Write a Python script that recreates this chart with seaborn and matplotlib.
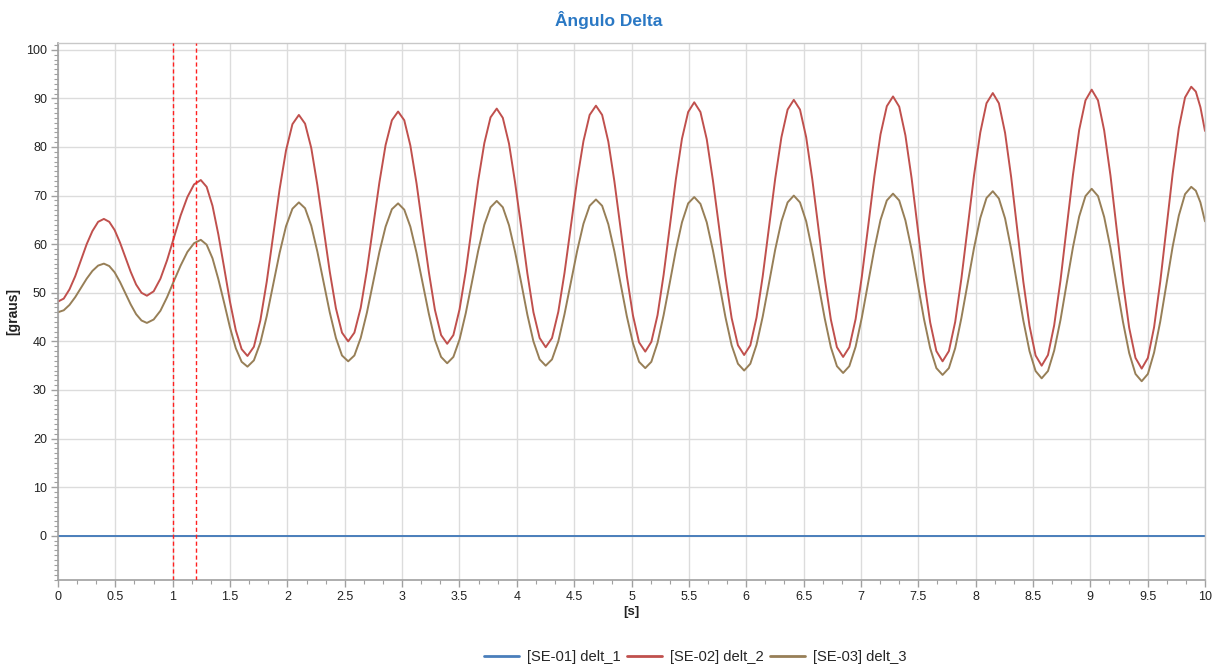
import matplotlib
matplotlib.use("Agg")
import matplotlib.pyplot as plt
from matplotlib.ticker import MultipleLocator
from matplotlib.lines import Line2D
import pandas as pd
import seaborn as sns

# ---- data ----
time_s = [
    0.0,
    0.05, 0.10, 0.15, 0.20, 0.25, 0.30, 0.35,
    0.40,
    0.447, 0.494, 0.541, 0.588, 0.634, 0.681, 0.728,
    0.775,
    0.834, 0.893, 0.951, 1.010, 1.069, 1.128, 1.186,
    1.245,
    1.296, 1.347, 1.398, 1.449, 1.499, 1.550, 1.601,
    1.652,
    1.708, 1.764, 1.820, 1.876, 1.932, 1.988, 2.044,
    2.10,
    2.154, 2.208, 2.261, 2.315, 2.369, 2.423, 2.476,
    2.53,
    2.584, 2.639, 2.693, 2.748, 2.802, 2.856, 2.911,
    2.965,
    3.019, 3.072, 3.126, 3.179, 3.233, 3.286, 3.340,
    3.393,
    3.447, 3.501, 3.555, 3.609, 3.663, 3.717, 3.771,
    3.825,
    3.878, 3.932, 3.985, 4.039, 4.092, 4.145, 4.199,
    4.252,
    4.307, 4.362, 4.416, 4.471, 4.526, 4.581, 4.635,
    4.69,
    4.744, 4.798, 4.851, 4.905, 4.959, 5.013, 5.066,
    5.12,
    5.173, 5.227, 5.280, 5.334, 5.387, 5.440, 5.494,
    5.547,
    5.601, 5.656, 5.710, 5.765, 5.819, 5.873, 5.928,
    5.982,
    6.036, 6.090, 6.144, 6.199, 6.253, 6.307, 6.361,
    6.415,
    6.469, 6.523, 6.576, 6.630, 6.684, 6.738, 6.791,
    6.845,
    6.899, 6.954, 7.008, 7.063, 7.117, 7.171, 7.226,
    7.28,
    7.334, 7.388, 7.442, 7.496, 7.550, 7.604, 7.658,
    7.712,
    7.767, 7.822, 7.876, 7.931, 7.986, 8.041, 8.095,
    8.15,
    8.203, 8.257, 8.310, 8.363, 8.416, 8.470, 8.523,
    8.576,
    8.631, 8.685, 8.740, 8.794, 8.849, 8.903, 8.958,
    9.012,
    9.067, 9.121, 9.176, 9.230, 9.285, 9.339, 9.394,
    9.448,
    9.502, 9.556, 9.610, 9.664, 9.718, 9.772, 9.826,
    9.88,
    9.92, 9.96, 10.0,
]

delt_2 = [
    48.2,
    48.8, 50.7, 53.4, 56.7, 60.0, 62.7, 64.6,
    65.2,
    64.6, 62.9, 60.3, 57.3, 54.3, 51.7, 50.0,
    49.4,
    50.3, 52.9, 56.7, 61.3, 65.9, 69.7, 72.3,
    73.2,
    71.8, 67.9, 62.0, 55.1, 48.2, 42.3, 38.4,
    37.0,
    38.9, 44.3, 52.3, 61.8, 71.3, 79.3, 84.7,
    86.6,
    84.8, 79.8, 72.2, 63.3, 54.4, 46.8, 41.8,
    40.0,
    41.8, 46.9, 54.6, 63.7, 72.7, 80.4, 85.5,
    87.3,
    85.5, 80.3, 72.5, 63.4, 54.3, 46.5, 41.3,
    39.5,
    41.3, 46.6, 54.4, 63.7, 73.0, 80.8, 86.1,
    87.9,
    86.0, 80.7, 72.7, 63.4, 54.0, 46.0, 40.7,
    38.8,
    40.7, 46.1, 54.1, 63.7, 73.2, 81.2, 86.6,
    88.5,
    86.6, 81.1, 72.9, 63.2, 53.5, 45.3, 39.8,
    37.9,
    39.9, 45.4, 53.7, 63.6, 73.4, 81.7, 87.2,
    89.2,
    87.2, 81.6, 73.1, 63.2, 53.3, 44.8, 39.2,
    37.2,
    39.2, 44.9, 53.4, 63.5, 73.5, 82.0, 87.7,
    89.7,
    87.7, 82.0, 73.4, 63.3, 53.1, 44.5, 38.8,
    36.8,
    38.8, 44.6, 53.3, 63.6, 73.9, 82.6, 88.4,
    90.4,
    88.3, 82.4, 73.6, 63.2, 52.7, 43.9, 38.0,
    35.9,
    38.0, 44.0, 52.9, 63.5, 74.1, 83.0, 89.0,
    91.1,
    89.0, 82.9, 73.8, 63.1, 52.3, 43.2, 37.1,
    35.0,
    37.2, 43.3, 52.5, 63.4, 74.3, 83.5, 89.6,
    91.8,
    89.6, 83.4, 74.1, 63.1, 52.1, 42.8, 36.6,
    34.4,
    36.6, 42.9, 52.3, 63.4, 74.5, 83.9, 90.2,
    92.4,
    91.4, 88.2, 83.3,
]

delt_3 = [
    46.0,
    46.4, 47.5, 49.1, 51.0, 52.9, 54.5, 55.6,
    56.0,
    55.5, 54.2, 52.2, 49.9, 47.6, 45.6, 44.3,
    43.8,
    44.5, 46.3, 49.1, 52.4, 55.6, 58.4, 60.2,
    60.9,
    59.9, 57.1, 52.8, 47.9, 42.9, 38.6, 35.8,
    34.8,
    36.1, 39.7, 45.2, 51.7, 58.2, 63.7, 67.3,
    68.6,
    67.4, 63.8, 58.5, 52.3, 46.0, 40.7, 37.1,
    35.9,
    37.1, 40.7, 45.9, 52.2, 58.4, 63.6, 67.2,
    68.4,
    67.1, 63.6, 58.2, 52.0, 45.7, 40.3, 36.8,
    35.5,
    36.8, 40.4, 45.8, 52.2, 58.6, 64.0, 67.6,
    68.9,
    67.6, 63.9, 58.4, 52.0, 45.5, 40.0, 36.3,
    35.0,
    36.3, 40.0, 45.6, 52.1, 58.6, 64.2, 67.9,
    69.2,
    67.9, 64.1, 58.5, 51.9, 45.2, 39.6, 35.8,
    34.5,
    35.8, 39.7, 45.4, 52.1, 58.8, 64.5, 68.4,
    69.7,
    68.3, 64.5, 58.7, 51.9, 45.0, 39.2, 35.4,
    34.0,
    35.4, 39.3, 45.1, 52.0, 58.9, 64.7, 68.6,
    70.0,
    68.6, 64.7, 58.7, 51.8, 44.8, 38.8, 34.9,
    33.5,
    34.9, 38.9, 44.9, 52.0, 59.0, 65.0, 69.0,
    70.4,
    69.0, 64.9, 58.9, 51.8, 44.6, 38.6, 34.5,
    33.1,
    34.5, 38.6, 44.8, 52.0, 59.2, 65.4, 69.5,
    70.9,
    69.4, 65.3, 59.0, 51.7, 44.3, 38.0, 33.9,
    32.4,
    33.9, 38.1, 44.4, 51.9, 59.4, 65.7, 69.9,
    71.4,
    69.9, 65.6, 59.2, 51.6, 44.0, 37.6, 33.3,
    31.8,
    33.3, 37.7, 44.1, 51.8, 59.5, 65.9, 70.3,
    71.8,
    71.0, 68.6, 64.7,
]

delt_1_time = [0.0, 10.0]
delt_1 = [0.0, 0.0]

event_times = [1.0, 1.2]

series_names = ["[SE-01] delt_1", "[SE-02] delt_2", "[SE-03] delt_3"]
series_colors = ["#4a7ebb", "#c0504d", "#977f57"]

x_ticks = [i * 0.5 for i in range(21)]
x_tick_labels = ["0", "0.5", "1", "1.5", "2", "2.5", "3", "3.5", "4", "4.5", "5",
                 "5.5", "6", "6.5", "7", "7.5", "8", "8.5", "9", "9.5", "10"]
y_ticks = [0, 10, 20, 30, 40, 50, 60, 70, 80, 90, 100]
y_tick_labels = ["0", "10", "20", "30", "40", "50", "60", "70", "80", "90", "100"]

title_text = "Ângulo Delta"
y_label = "[graus]"
x_label = "[s]"

# ---- build long-format table ----
frames = [
    pd.DataFrame({"t": delt_1_time, "v": delt_1, "serie": series_names[0]}),
    pd.DataFrame({"t": time_s, "v": delt_2, "serie": series_names[1]}),
    pd.DataFrame({"t": time_s, "v": delt_3, "serie": series_names[2]}),
]
df = pd.concat(frames, ignore_index=True)

sns.set_style("white")
plt.rcParams["font.family"] = ["Liberation Sans", "DejaVu Sans"]

fig = plt.figure(figsize=(12.18, 6.71), dpi=100)
ax = fig.add_axes([58 / 1218, 1 - 580 / 671, (1205 - 58) / 1218, (580 - 43) / 671])

ax.grid(True, which="major", color="#dcdcdc", linewidth=1.0)
ax.set_axisbelow(True)

sns.lineplot(data=df, x="t", y="v", hue="serie", palette=dict(zip(series_names, series_colors)),
             estimator=None, sort=False, linewidth=1.4, ax=ax, legend=False)
for ln in ax.get_lines():
    ln.set_solid_joinstyle("round")
    ln.set_solid_capstyle("round")

for et in event_times:
    ax.axvline(et, color="#ff2020", linestyle=(0, (3, 2)), linewidth=1.0, zorder=3)

ax.set_xlim(0, 10)
ax.set_ylim(-9.1, 101.4)
ax.set_xticks(x_ticks)
ax.set_xticklabels(x_tick_labels)
ax.set_yticks(y_ticks)
ax.set_yticklabels(y_tick_labels)
ax.xaxis.set_minor_locator(MultipleLocator(0.5 / 3))
ax.yaxis.set_minor_locator(MultipleLocator(1))

ax.tick_params(axis="both", which="major", direction="out", length=5, width=1,
               color="#a0a0a0", labelsize=9, labelcolor="#222222", pad=3)
ax.tick_params(axis="both", which="minor", direction="out", length=3, width=0.8,
               color="#a0a0a0")
ax.tick_params(axis="x", which="both", bottom=True)
ax.tick_params(axis="y", which="both", left=True)

for side in ["left", "bottom"]:
    ax.spines[side].set_color("#a0a0a0")
    ax.spines[side].set_linewidth(1.2)
for side in ["top", "right"]:
    ax.spines[side].set_color("#c8c8c8")
    ax.spines[side].set_linewidth(1.0)

ax.set_xlabel(x_label, fontsize=9.5, fontweight="bold", color="#222222", labelpad=2)
ax.set_ylabel(y_label, fontsize=10, fontweight="bold", color="#222222")
ax.yaxis.set_label_coords((20 - 58) / 1147, 0.5)

fig.text(609 / 1218, 1 - 20 / 671, title_text, ha="center", va="center",
         fontsize=12.5, fontweight="bold", color="#2a78c4")

handles = [Line2D([0], [0], color=c, linewidth=2) for c in series_colors]
fig.legend(handles, series_names, loc="center", bbox_to_anchor=(695 / 1218, 1 - 657 / 671),
           ncol=3, frameon=False, fontsize=10.6, handlelength=2.4, handletextpad=0.5,
           columnspacing=0.45)

fig.savefig("out.png", dpi=100)
